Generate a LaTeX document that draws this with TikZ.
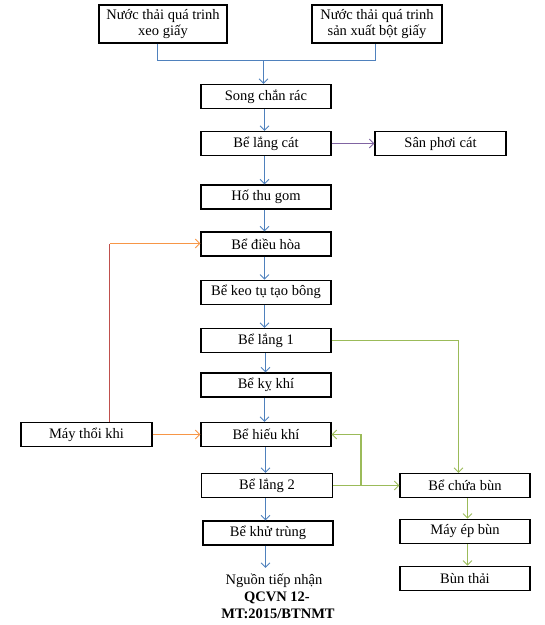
\documentclass[tikz,border=0pt]{standalone}
\usepackage{fontspec}
\setmainfont{Liberation Serif}
\usetikzlibrary{arrows.meta}
\definecolor{cblue}{HTML}{4F81BD}
\definecolor{cgreen}{HTML}{9BBB59}
\definecolor{corange}{HTML}{F79646}
\definecolor{cred}{HTML}{C0504D}
\definecolor{cpurple}{HTML}{8064A2}
\begin{document}
\begin{tikzpicture}[x=1pt,y=-1pt,
  box/.style={draw=black,line width=1.2pt,minimum width=130pt,minimum height=24pt,inner sep=0pt,
    font=\fontsize{14.5}{16.5}\selectfont,align=center},
  tip/.style={-{Straight Barb[length=4.5pt,width=9pt,line width=0.9pt]}},
  bline/.style={draw=cblue,line width=1.1pt},
  gline/.style={draw=cgreen,line width=1.3pt},
  oline/.style={draw=corange,line width=1.3pt},
  rline/.style={draw=cred,line width=1.1pt},
  pline/.style={draw=cpurple,line width=1.1pt},
  lbl/.style={font=\fontsize{14.5}{16.5}\selectfont,inner sep=0pt,align=center}]
\useasboundingbox (0,0) rectangle (545,625);
% nodes
\node[box,minimum width=128pt,minimum height=38pt] (A) at (163,24) {Nước thải quá trinh\\xeo giấy};
\node[box,minimum width=130pt,minimum height=38pt] (B) at (377,24) {Nước thải quá trinh\\sản xuất bột giấy};
\node[box] (song) at (266,96.5) {Song chắn rác};
\node[box] (lc) at (266,143.5) {Bể lắng cát};
\node[box,minimum width=131pt] (sp) at (440.5,143.5) {Sân phơi cát};
\node[box] (hg) at (266,197) {Hố thu gom};
\node[box] (dh) at (266,244) {Bể điều hòa};
\node[box] (kt) at (266,292.3) {Bể keo tụ tạo bông};
\node[box] (l1) at (266,340.5) {Bể lắng 1};
\node[box] (kk) at (266,385) {Bể kỵ khí};
\node[box,minimum width=131pt] (mt) at (86.5,434.5) {Máy thổi khi};
\node[box] (hk) at (266,434.5) {Bể hiếu khí};
\node[box,minimum width=131pt] (l2) at (267,485.5) {Bể lắng 2};
\node[box] (cb) at (465,485.5) {Bể chứa bùn};
\node[box,minimum width=130pt] (kh) at (268,533) {Bể khử trùng};
\node[box] (me) at (465,531.3) {Máy ép bùn};
\node[box] (bt) at (465,578.3) {Bùn thải};
\node[lbl] (ng) at (274,581) {Nguồn tiếp nhận};
\node[lbl,font=\fontsize{14.5}{16.5}\selectfont\bfseries] (q1) at (277,597.5) {QCVN 12-};
\node[lbl,font=\fontsize{14.5}{16.5}\selectfont\bfseries] (q2) at (278,613.5) {MT:2015/BTNMT};
% merge of the two inflows
\coordinate (m) at (263.5,60.5);
\draw[bline] ([xshift=-5.5pt]A.south) |- (m) -| ([xshift=-1.5pt]B.south);
\draw[bline,tip] (m) -- (m |- song.north);
% main column
\draw[bline,tip] ([xshift=-1.5pt]song.south) -- ([xshift=-1.5pt]lc.north);
\draw[pline,tip] (lc.east) -- (sp.west);
\draw[bline,tip] ([xshift=-1.5pt]lc.south) -- ([xshift=-1.5pt]hg.north);
\draw[bline,tip] ([xshift=-1.5pt]hg.south) -- ([xshift=-1.5pt]dh.north);
\draw[bline,tip] ([xshift=-1.5pt]dh.south) -- ([xshift=-1.5pt]kt.north);
\draw[bline,tip] ([xshift=-1.5pt]kt.south) -- ([xshift=-1.5pt]l1.north);
\draw[bline,tip] ([xshift=-0.5pt]l1.south) -- ([xshift=-0.5pt]kk.north);
\draw[bline,tip] ([xshift=-1.5pt]kk.south) -- ([xshift=-1.5pt]hk.north);
\draw[bline,tip] ([xshift=-0.5pt]hk.south) -- ([xshift=-1.5pt]l2.north);
\draw[bline,tip] ([xshift=-1.5pt]l2.south) -- ([xshift=-2.5pt]kh.north);
\draw[bline,tip] ([xshift=-2.5pt]kh.south) -- ([xshift=-2.5pt,yshift=6pt]kh.south |- ng.north);
% air blower
\coordinate (c) at (109.5,243.5);
\draw[rline] (mt.north -| c) -- (c);
\draw[oline,tip] (c) -- (dh.west |- c);
\draw[oline,tip] (mt.east) -- (hk.west);
% sludge lines
\draw[gline,tip] (l1.east) -| ([xshift=-6.5pt]cb.north);
\draw[gline,tip] (l2.east) -- (cb.west);
\path (l2.east) -- (cb.west) coordinate[pos=0.42] (j);
\draw[gline,tip] (j |- l2.east) |- (hk.east);
\draw[gline,tip] ([xshift=2.5pt]cb.south) -- ([xshift=2.5pt]me.north);
\draw[gline,tip] ([xshift=2.5pt]me.south) -- ([xshift=2.5pt]bt.north);
\end{tikzpicture}
\end{document}
